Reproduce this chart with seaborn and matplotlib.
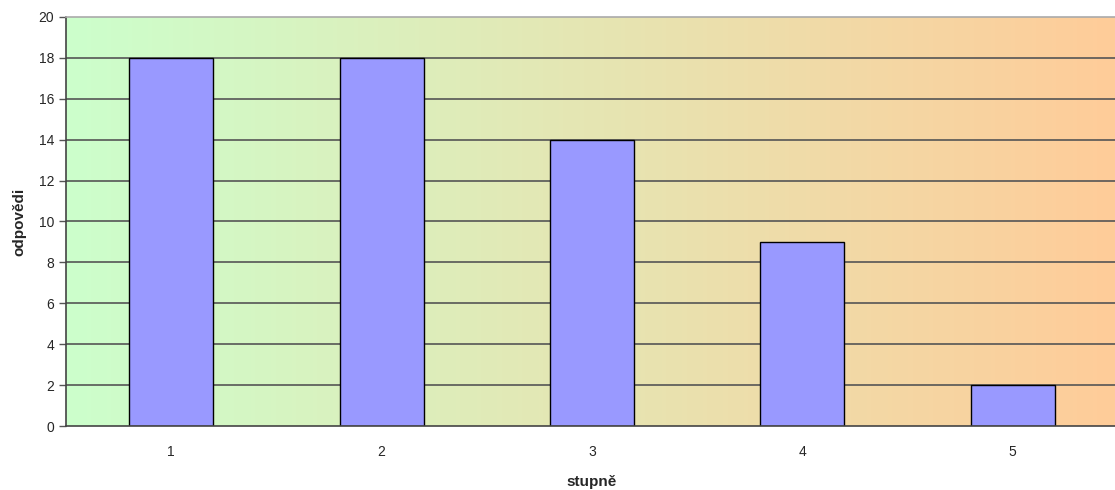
import numpy as np
import pandas as pd
import matplotlib
matplotlib.use("Agg")
import matplotlib.pyplot as plt
import seaborn as sns
from matplotlib.colors import LinearSegmentedColormap

categories = ["1", "2", "3", "4", "5"]
values = [18, 18, 14, 9, 2]
yticks = [0, 2, 4, 6, 8, 10, 12, 14, 16, 18, 20]

sns.set_style("white")
plt.rcParams['font.family'] = ['Liberation Sans', 'DejaVu Sans']

fig = plt.figure(figsize=(11.15, 4.9), dpi=100)
ax = fig.add_axes([66/1115, 1-426/490, (1118-66)/1115, (426-17)/490])

df = pd.DataFrame({"stupně": categories, "odpovědi": values})

# gradient background
cmap = LinearSegmentedColormap.from_list("bg", ["#CCFFCC", "#FFCC99"])
grad = np.linspace(0, 1, 256).reshape(1, -1)
ax.imshow(grad, aspect="auto", cmap=cmap, extent=[-0.5, 4.5, 0, 20], zorder=0)

for y in yticks[1:-1]:
    ax.axhline(y, color="#555555", lw=1.2, zorder=1)

sns.barplot(data=df, x="stupně", y="odpovědi", color="#9999FF", width=0.4,
            edgecolor="black", linewidth=1, saturation=1, ax=ax, zorder=2)

ax.set_xlim(-0.5, 4.5)
ax.set_ylim(0, 20)
ax.set_yticks(yticks)
ax.set_xticks(range(len(categories)))
ax.set_xticklabels(categories)
ax.set_xticks(np.arange(-0.5, 4.6, 1), minor=True)
ax.tick_params(axis="x", which="major", length=0, pad=14, labelsize=10)
ax.tick_params(axis="x", which="minor", length=5, width=1, color="#555555", direction="out")
ax.tick_params(axis="y", length=5, width=1, color="#555555", direction="out", labelsize=10, left=True)

for side in ["left", "bottom"]:
    ax.spines[side].set_color("#444444")
    ax.spines[side].set_linewidth(1.2)
ax.spines["top"].set_color("#AAAAAA")
ax.spines["top"].set_linewidth(1.2)
ax.spines["right"].set_visible(False)

ax.set_xlabel("stupně", fontsize=11, fontweight="bold", labelpad=11)
ax.set_ylabel("odpovědi", fontsize=11, fontweight="bold", labelpad=9)

fig.savefig("out.png", dpi=100)
